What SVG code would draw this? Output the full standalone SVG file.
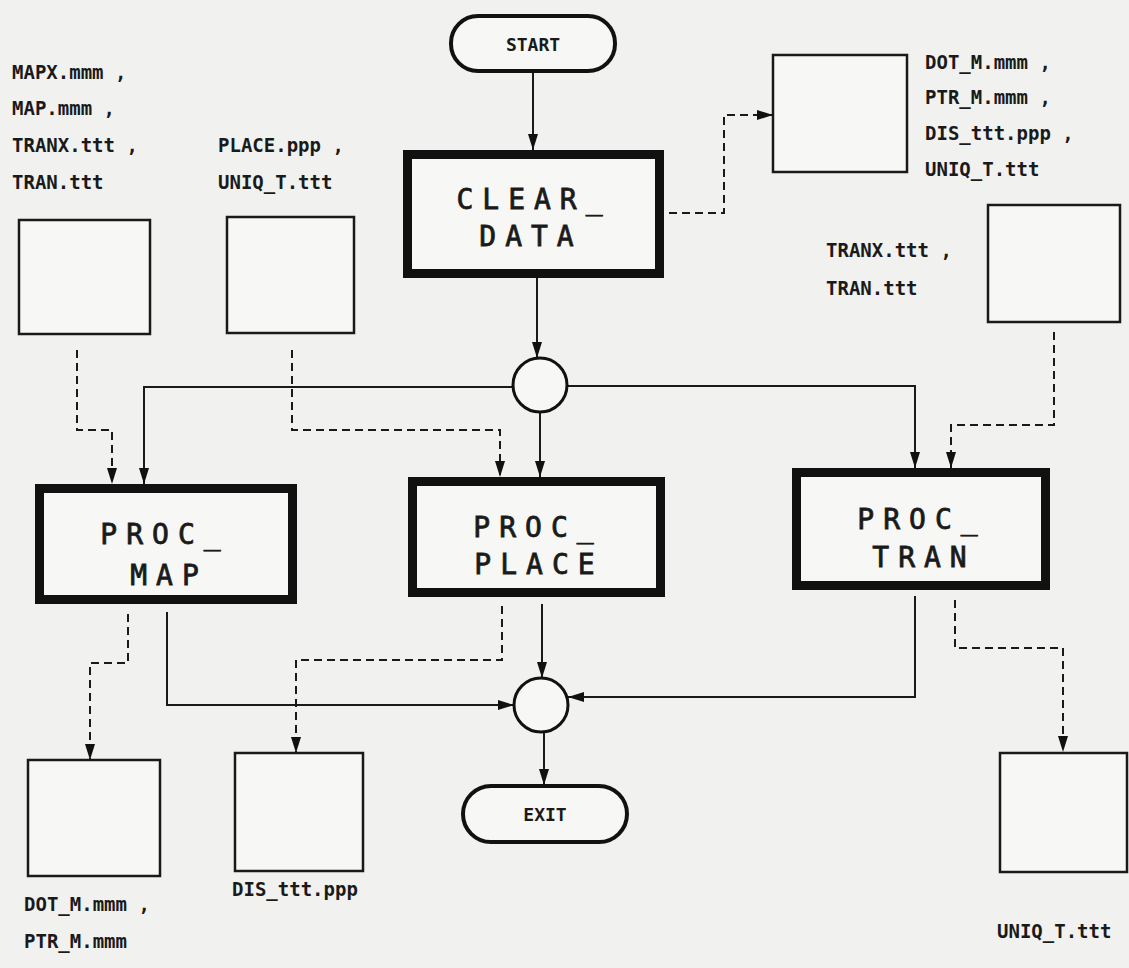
<svg xmlns="http://www.w3.org/2000/svg" width="1129" height="968" viewBox="0 0 1129 968">
<style>
.lbl{font-family:"DejaVu Sans Mono","Liberation Mono",monospace;font-size:19px;font-weight:bold;fill:#1a1a1a}
.ptxt{font-family:"DejaVu Sans Mono","Liberation Mono",monospace;font-size:28px;fill:#1a1a1a;stroke:#1a1a1a;stroke-width:0.8;letter-spacing:9px;text-anchor:middle}
.ttxt{font-family:"DejaVu Sans Mono","Liberation Mono",monospace;font-size:18px;font-weight:bold;fill:#1a1a1a;text-anchor:middle}
.file{fill:#f7f7f5;stroke:#1a1a1a;stroke-width:2.5}
.proc{fill:#f7f7f5;stroke:#111;stroke-width:9}
.term{fill:#f7f7f5;stroke:#111;stroke-width:4}
.jn{fill:#f7f7f5;stroke:#111;stroke-width:3}
.flow{fill:none;stroke:#1a1a1a;stroke-width:2}
.data{fill:none;stroke:#1a1a1a;stroke-width:2;stroke-dasharray:8 5}
</style>
<defs>
<marker id="ah" viewBox="0 0 16 10" refX="16" refY="5" markerWidth="16" markerHeight="11" markerUnits="userSpaceOnUse" orient="auto">
<path d="M0,0 L16,5 L0,10 z" fill="#111"/>
</marker>
</defs>
<rect x="0" y="0" width="1129" height="968" fill="#f1f1ef"/>

<g id="connectors">
<path class="flow" d="M533,72 V150" marker-end="url(#ah)"/>
<path class="flow" d="M537,278 V358" marker-end="url(#ah)"/>
<path class="flow" d="M513,387 H144 V484" marker-end="url(#ah)"/>
<path class="flow" d="M540,412 V477" marker-end="url(#ah)"/>
<path class="flow" d="M567,386 H915 V468" marker-end="url(#ah)"/>
<path class="data" d="M669,213 H724 V115 H773" marker-end="url(#ah)"/>
<path class="data" d="M77,350 V430 H112 V484" marker-end="url(#ah)"/>
<path class="data" d="M292,350 V430 H500 V477" marker-end="url(#ah)"/>
<path class="data" d="M1054,332 V425 H951 V468" marker-end="url(#ah)"/>
<path class="data" d="M128,614 V663 H90 V760" marker-end="url(#ah)"/>
<path class="flow" d="M167,612 V705 H514" marker-end="url(#ah)"/>
<path class="data" d="M502,606 V660 H296 V753" marker-end="url(#ah)"/>
<path class="flow" d="M542,604 V678" marker-end="url(#ah)"/>
<path class="flow" d="M915,596 V697 H568" marker-end="url(#ah)"/>
<path class="data" d="M955,600 V648 H1063 V752" marker-end="url(#ah)"/>
<path class="flow" d="M544,733 V785" marker-end="url(#ah)"/>
</g>

<g id="start">
<rect class="term" x="451" y="16" width="164" height="55" rx="27"/>
<text class="ttxt" x="533" y="51">START</text>
</g>
<g id="exit">
<rect class="term" x="463" y="786" width="164" height="56" rx="28"/>
<text class="ttxt" x="545" y="821">EXIT</text>
</g>

<g id="clear_data">
<rect class="proc" x="407.5" y="154.5" width="252" height="119"/>
<text class="ptxt" x="534" y="209">CLEAR_</text>
<text class="ptxt" x="531" y="246">DATA</text>
</g>
<g id="proc_map">
<rect class="proc" x="39.5" y="488.5" width="253" height="111"/>
<text class="ptxt" x="165" y="544">PROC_</text>
<text class="ptxt" x="169" y="585">MAP</text>
</g>
<g id="proc_place">
<rect class="proc" x="412.5" y="481.5" width="248" height="111"/>
<text class="ptxt" x="538" y="537">PROC_</text>
<text class="ptxt" x="539" y="574">PLACE</text>
</g>
<g id="proc_tran">
<rect class="proc" x="796.5" y="472.5" width="249" height="113"/>
<text class="ptxt" x="922" y="529">PROC_</text>
<text class="ptxt" x="924" y="567">TRAN</text>
</g>

<g id="junction_top"><circle class="jn" cx="540" cy="385" r="27"/></g>
<g id="junction_bottom"><circle class="jn" cx="541" cy="705" r="27"/></g>

<g id="file_in_map">
<rect class="file" x="19" y="220" width="131" height="114"/>
<text class="lbl" x="12" y="79">MAPX.mmm ,</text>
<text class="lbl" x="12" y="115">MAP.mmm ,</text>
<text class="lbl" x="12" y="152">TRANX.ttt ,</text>
<text class="lbl" x="12" y="189">TRAN.ttt</text>
</g>
<g id="file_in_place">
<rect class="file" x="227" y="217" width="127" height="116"/>
<text class="lbl" x="218" y="152">PLACE.ppp ,</text>
<text class="lbl" x="218" y="189">UNIQ_T.ttt</text>
</g>
<g id="file_clear">
<rect class="file" x="773" y="55" width="134" height="117"/>
<text class="lbl" x="925" y="69">DOT_M.mmm ,</text>
<text class="lbl" x="925" y="104">PTR_M.mmm ,</text>
<text class="lbl" x="925" y="140">DIS_ttt.ppp ,</text>
<text class="lbl" x="925" y="176">UNIQ_T.ttt</text>
</g>
<g id="file_in_tran">
<rect class="file" x="988" y="205" width="132" height="117"/>
<text class="lbl" x="826" y="257">TRANX.ttt ,</text>
<text class="lbl" x="826" y="295">TRAN.ttt</text>
</g>
<g id="file_out_map">
<rect class="file" x="28" y="760" width="132" height="116"/>
<text class="lbl" x="24" y="911">DOT_M.mmm ,</text>
<text class="lbl" x="24" y="948">PTR_M.mmm</text>
</g>
<g id="file_out_place">
<rect class="file" x="235" y="753" width="128" height="118"/>
<text class="lbl" x="232" y="896">DIS_ttt.ppp</text>
</g>
<g id="file_out_tran">
<rect class="file" x="1000" y="753" width="127" height="119"/>
<text class="lbl" x="997" y="938">UNIQ_T.ttt</text>
</g>
</svg>
